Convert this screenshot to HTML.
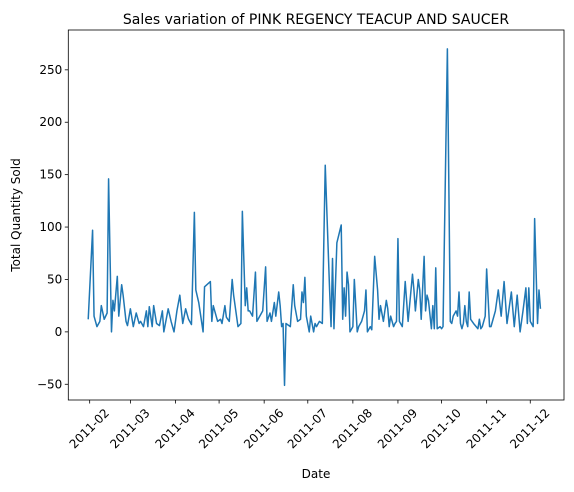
<!DOCTYPE html>
<html><head><meta charset="utf-8"><style>
html,body{margin:0;padding:0;background:#fff;}
svg{display:block;font-family:"DejaVu Sans","Liberation Sans",sans-serif;}
</style></head><body>
<svg id="chart" width="574" height="492" viewBox="0 0 574 492">
<rect x="0" y="0" width="574" height="492" fill="#fff"/>
<text x="316" y="24" text-anchor="middle" font-size="14">Sales variation of PINK REGENCY TEACUP AND SAUCER</text>
<g id="plot"></g>
<text x="316" y="478" text-anchor="middle" font-size="12">Date</text>
<text transform="translate(20,215) rotate(-90)" text-anchor="middle" font-size="12">Total Quantity Sold</text>
</svg>
<script>
// day offsets from 2011-02-01
const days=[-1,2,3,5,7,8,10,12,13,15,16,17,19,20,22,23,25,26,28,30,32,34,35,37,39,40,41,43,44,46,48,50,51,54,56,58,60,62,64,66,68,70,72,73,75,78,79,83,84,85,88,90,91,93,94,96,98,99,102,104,105,107,108,109,110,112,114,115,117,119,121,122,124,125,127,128,130,131,132,133,134,135,138,140,141,143,145,146,147,148,149,151,152,154,155,156,158,160,162,165,166,167,168,170,173,174,175,176,177,178,179,181,182,184,185,187,189,190,191,193,194,196,198,199,200,202,204,205,206,207,209,210,211,212,213,215,217,219,220,222,223,224,226,227,228,230,231,232,233,235,236,237,238,239,241,242,243,246,248,249,250,252,253,254,255,256,257,258,259,260,261,262,264,267,268,269,270,272,273,275,276,279,281,283,285,287,290,292,294,296,298,300,301,302,303,305,306,308,309,310];
const quantities=[12,97,15,5,10,25,12,18,146,0,30,20,53,15,45,35,10,6,22,5,18,8,10,5,20,5,24,5,25,8,6,20,0,22,10,0,20,35,8,22,12,7,114,40,28,0,43,48,10,25,10,12,8,25,14,10,50,35,5,8,115,25,42,20,20,15,57,10,15,20,62,10,18,10,28,15,38,25,5,8,-51,8,5,45,25,10,12,38,28,52,15,0,15,0,8,5,10,8,159,40,5,70,3,85,102,12,42,15,57,45,0,5,50,0,5,10,20,40,0,5,2,72,40,12,25,10,30,22,5,15,5,8,10,89,10,5,48,10,25,55,40,20,50,40,12,72,20,35,30,3,25,3,61,3,5,3,5,270,10,8,15,20,15,38,8,3,8,25,10,5,38,12,8,3,12,3,5,15,60,5,5,20,40,15,48,8,38,5,35,0,20,42,8,42,10,5,108,8,40,22];
const monthLabels=["2011-02","2011-03","2011-04","2011-05","2011-06","2011-07","2011-08","2011-09","2011-10","2011-11","2011-12"];
const monthDays=[0,28,59,89,120,150,181,212,242,273,303];
const yTicks=[-50,0,50,100,150,200,250];

const NS="http://www.w3.org/2000/svg";
const L=68.3,R=564,T=30,B=400;
const dMin=-14.7,dMax=326.2,vMin=-65,vMax=288;
function xs(d){return L+(d-dMin)/(dMax-dMin)*(R-L);}
function ys(v){return B-(v-vMin)/(vMax-vMin)*(B-T);}
const g=document.getElementById('plot');
function mk(t,a){const e=document.createElementNS(NS,t);for(const k in a)e.setAttribute(k,a[k]);g.appendChild(e);return e;}

const line=mk('polyline',{points:days.map((d,i)=>xs(d).toFixed(2)+','+ys(quantities[i]).toFixed(2)).join(' '),fill:'none',stroke:'#1f77b4','stroke-width':1.5,'stroke-linejoin':'round'});



const frame=mk('rect',{x:L,y:T,width:R-L,height:B-T,fill:'none',stroke:'#000','stroke-width':0.8});



yTicks.forEach(v=>{
  const y=ys(v);
  const tk=mk('line',{x1:L-3.5,x2:L,y1:y,y2:y,stroke:'#000','stroke-width':0.8});
  
  
  const t=mk('text',{x:L-6,y:y+4,'text-anchor':'end','font-size':12});
  t.textContent=String(v).replace('-','\u2212');
  
  
});
monthDays.forEach((d,i)=>{
  const x=xs(d);
  const tk=mk('line',{x1:x,x2:x,y1:B,y2:B+3.5,stroke:'#000','stroke-width':0.8});
  
  
  const cy=B+29;
  const t=mk('text',{x:x,y:cy,'text-anchor':'middle','dominant-baseline':'middle','font-size':12,transform:`rotate(-45 ${x} ${cy})`});
  t.textContent=monthLabels[i];
  
  
});
</script>
</body></html>
